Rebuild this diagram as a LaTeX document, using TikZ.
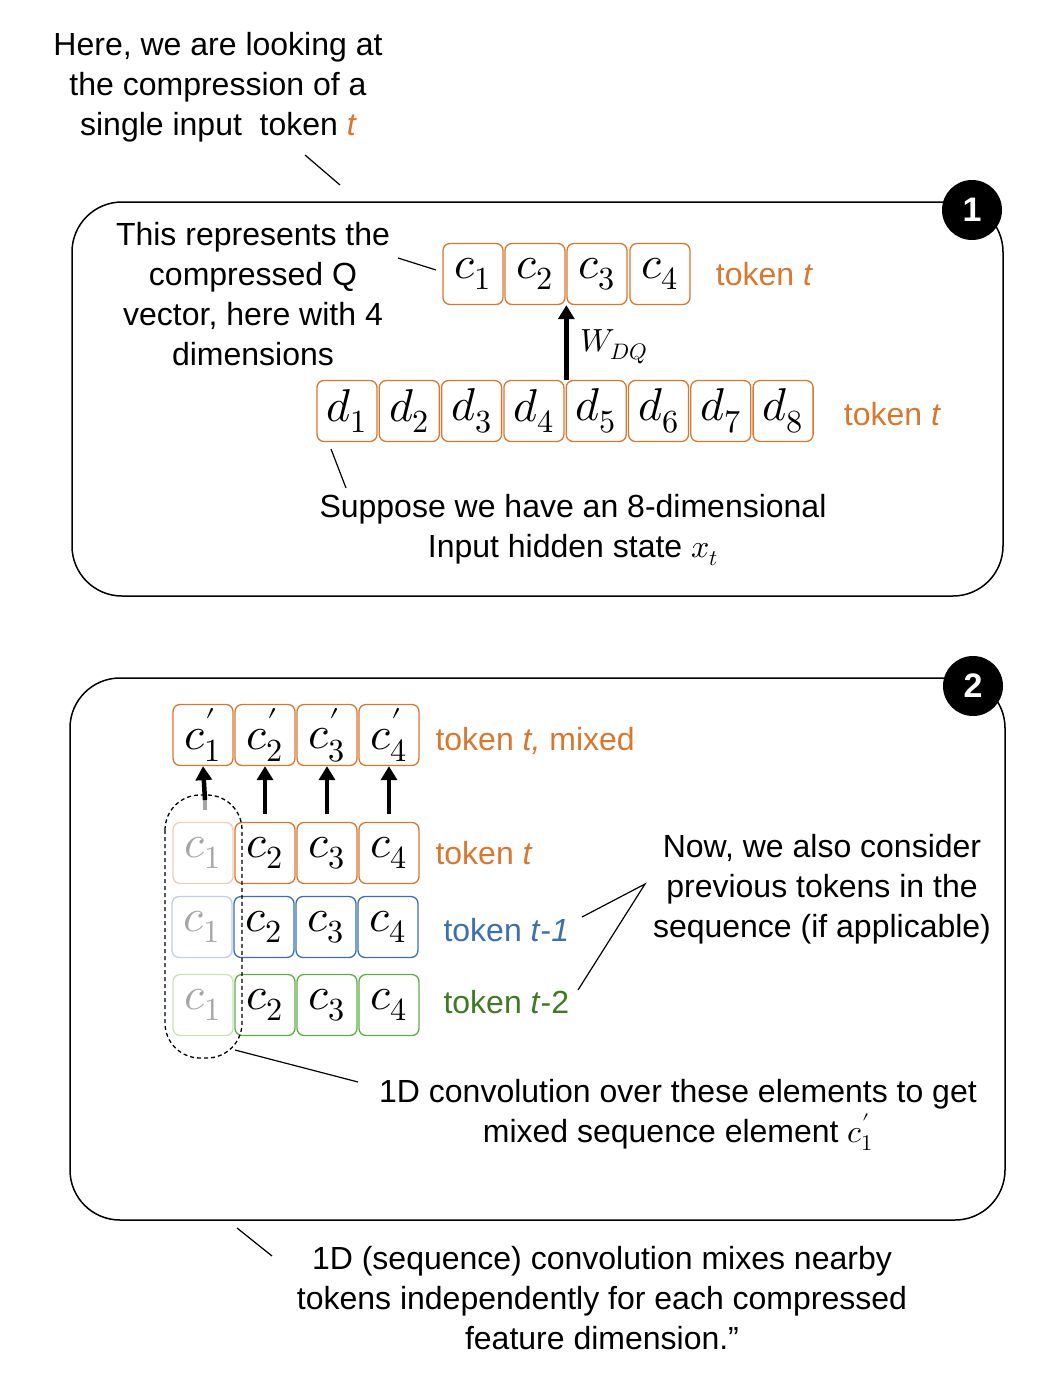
\documentclass[tikz,border=0pt]{standalone}
\usepackage{fontspec}
\setmainfont{Liberation Sans}
\usepackage{unicode-math}
\setmathfont{Latin Modern Math}
\usetikzlibrary{arrows.meta,shapes.geometric}
\definecolor{org}{HTML}{D9772E}
\definecolor{blu}{HTML}{3B6FB0}
\definecolor{grn}{HTML}{5FAE45}
\definecolor{grnT}{HTML}{3E7A22}
\definecolor{orgL}{HTML}{F2CDB3}
\definecolor{bluL}{HTML}{BCD0E8}
\definecolor{grnL}{HTML}{C6E3B8}
\begin{document}
\begin{tikzpicture}[x=1pt,y=-1pt,
  cell/.style={draw=#1,line width=1.3pt,rounded corners=7pt,minimum width=60pt,minimum height=61pt,inner sep=0pt,font=\fontsize{46}{46}\selectfont},
  txt/.style={font=\fontsize{32}{40}\selectfont,align=center},
  frame/.style={draw,line width=1.5pt,rounded corners=50pt},
  badge/.style={circle,fill=black,text=white,minimum size=60pt,inner sep=0pt,font=\bfseries\fontsize{34}{34}\selectfont},
  lead/.style={line width=1.2pt},
  up/.style={-{Triangle[length=14pt,width=16pt]},line width=4.5pt}]
\useasboundingbox (0,0) rectangle (1036,1400);
% Panel 1
\node[txt] (intro) at (218,87) {Here, we are looking at\\the compression of a\\single input\ \ token \textcolor{org}{\itshape t}};
\draw[frame] (72,202) rectangle (1003,596);
\node[badge] (b1) at (972,210) {1};
\foreach \i/\x in {1/473,2/535,3/597,4/660}
  \node[cell=org] (c\i) at (\x,274) {$c_{\i}$};
\foreach \i in {1,...,8}
  \node[cell=org] (d\i) at ({347+62.3*(\i-1)},411) {$d_{\i}$};
\node[txt,text=org] (tc) at (764,274) {token \itshape t};
\node[txt,text=org] (td) at (892,414) {token \itshape t};
\node[txt] (cq) at (253,294) {This represents the\\compressed Q\\vector, here with 4\\dimensions};
\node[txt] (hid) at (573,530) {Suppose we have an 8-dimensional\\Input hidden state $x_t$};
\draw[up] (c3.south west |- d5.north) -- (c3.south west);
\node[font=\fontsize{32}{32}\selectfont] (wdq) at (614,347) {$W_{DQ}$};
\draw[lead] (305,155) -- (340,185);
\draw[lead] (398,258) -- (436,270);
\draw[lead] (331,449) -- (346,488);
% Panel 2
\draw[frame] (70,678) rectangle (1005,1220);
\node[badge] (b2) at (973,686) {2};
\foreach \i/\x in {1/203,2/265,3/327,4/389}{
  \node[cell=org] (p\i) at (\x,735) {$c'_{\i}$};}
\node[cell=orgL,text=gray!70] (t1) at (203,853) {$c_1$};
\node[cell=bluL,text=gray!70] (u1) at (202,927) {$c_1$};
\node[cell=grnL,text=gray!70] (v1) at (203,1005) {$c_1$};
\foreach \i/\x in {2/265,3/327,4/389}{
  \node[cell=org] (t\i) at (\x,853) {$c_{\i}$};
  \node[cell=blu] (u\i) at (\x-1,927) {$c_{\i}$};
  \node[cell=grn] (v\i) at (\x,1005) {$c_{\i}$};}
\draw[gray!70,line width=4.5pt] (205,810) -- (205,800);
\draw[up] (205,800) -- (p1.south);
\foreach \i in {2,3,4} \draw[up] (p\i.south |- 0,814) -- (p\i.south);
\draw[dashed,line width=1.3pt,rounded corners=35pt,dash pattern=on 4pt off 3pt] (165,795) rectangle (242,1058);
\node[txt,text=org,anchor=west] (tm) at (432,741) {token \textit{t,} mixed};
\node[txt,text=org,anchor=west] (tt) at (432,853) {token \itshape t};
\node[txt,text=blu,anchor=west] (t1l) at (440,930) {token \textit{t}-\textit{1}};
\node[txt,text=grnT,anchor=west] (t2l) at (440,1002) {token \textit{t}-2};
\node[txt] (prev) at (822,889) {Now, we also consider\\previous tokens in the\\sequence (if applicable)};
\node[txt] (conv) at (678,1115) {1D convolution over these elements to get\\mixed sequence element $c'_1$};
\node[txt] (foot) at (602,1298) {1D (sequence) convolution mixes nearby\\tokens independently for each compressed\\feature dimension.”};
\coordinate (fork) at (645,884);
\draw[lead] (582,917) -- (fork) -- (578,990);
\draw[lead] (235,1050) -- (358,1082);
\draw[lead] (237,1228) -- (272,1256);
\end{tikzpicture}
\end{document}
